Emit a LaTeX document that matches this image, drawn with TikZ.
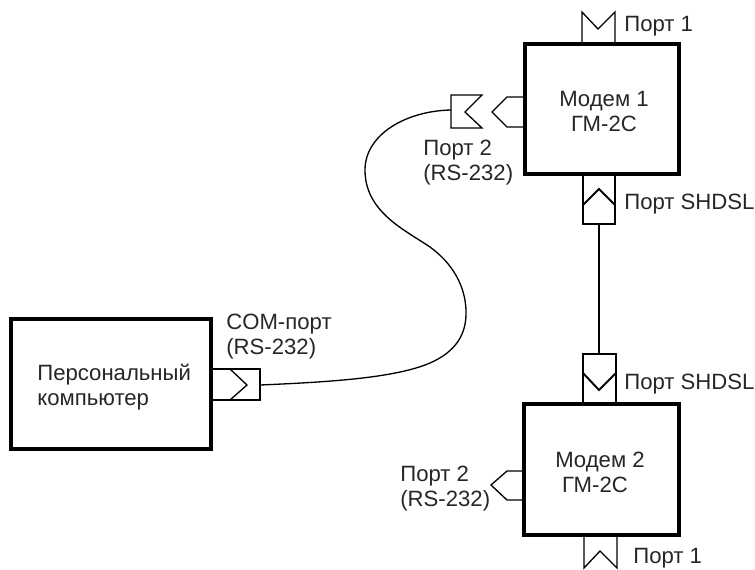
\documentclass[tikz,border=0pt]{standalone}
\usepackage{fontspec}
\setmainfont{Liberation Sans}
\tikzset{
	block/.style={line width=2.1pt},
	port/.style={line width=.75pt},
	portb/.style={line width=1.1pt},
	lbl/.style={font=\fontsize{12.6pt}{14.2pt}\selectfont,align=left,text=black!85,inner sep=0pt,yshift=-.05cm}
}
\begin{document}
\begin{tikzpicture}[x=.02cm,y=-.02cm]
	\useasboundingbox (0,0) rectangle (755,569);
	% blocks
	\draw[block] (525,44) rectangle (679,174);
	\draw[block] (524,404) rectangle (679,535);
	\draw[block] (11,319) rectangle (211,449);
	
	\node[lbl,align=center] (modemA) at (604,109) {Модем 1\\ГМ-2С};
	\node[lbl,align=center] (modemB) at (600,470) {Модем 2\\ГМ-2С\hspace*{.2cm}};
	\node[lbl,right] (pc) at (37,385) {Персональный\\компьютер};
	
	% ports
	\draw[port] (582,44)--(582,12)--(598,29)--(615,12)--(615,44);
	\draw[port] (525,97)--(507,97)--(492,112)--(507,127)--(525,127);
	\draw[port] (482,95)--(451,95)--(451,128)--(482,128)--(465,112)--cycle;
	\draw[portb] (583,174)--(583,224)--(615,224)--(615,174);
	\draw[portb] (583,205)--(599,189)--(615,205);
	\draw[portb] (583,404)--(583,354)--(616,354)--(616,404);
	\draw[portb] (583,373)--(599,390)--(616,373);
	\draw[port] (584,535)--(584,568)--(600,551)--(617,568)--(617,535);
	\draw[port] (524,471)--(507,471)--(491,485)--(507,500)--(524,500);
	\draw[port] (211,369)--(260,369)--(260,400)--(211,400);
	\draw[port] (230,369)--(247,385)--(230,400);
	
	\coordinate (shdslA) at (599,224);
	\coordinate (shdslB) at (599,354);
	\coordinate (comEnd) at (260,385);
	\coordinate (sockEnd) at (451,110);
	\draw[line width=1.1pt] (shdslA)--(shdslB);
	\draw[port] (comEnd) .. controls (330,382) and (395,378) .. (430,363)
		.. controls (455,352) and (467,335) .. (466,310)
		.. controls (465,285) and (452,263) .. (430,247)
		.. controls (405,230) and (365,212) .. (365,170)
		.. controls (365,135) and (405,111) .. (sockEnd);
	
	% labels
	\node[lbl,right] (portA1) at (624,24) {Порт 1};
	\node[lbl,right] (portA2) at (423,160) {Порт 2\\(RS-232)};
	\node[lbl,right] (shdslLblA) at (624,202) {Порт SHDSL};
	\node[lbl,right] (shdslLblB) at (624,382) {Порт SHDSL};
	\node[lbl,right] (portB2) at (400,486) {Порт 2\\(RS-232)};
	\node[lbl,right] (portB1) at (633,556) {Порт 1};
	\node[lbl,right] (com) at (226,334) {COM-порт\\(RS-232)};
\end{tikzpicture}
\end{document}
